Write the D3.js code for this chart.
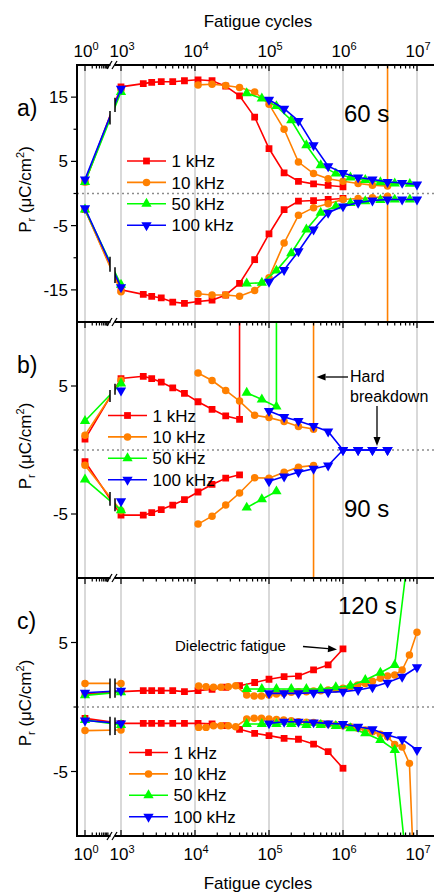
<!DOCTYPE html>
<html>
<head>
<meta charset="UTF-8">
<title>Fatigue cycles</title>
<style>
  body { margin: 0; background: #fff; }
  svg { display: block; font-family: "Liberation Sans", Arial, sans-serif; }
  .grid { stroke: #cccccc; stroke-width: 1.5; }
  .zero { stroke: #8c8c8c; stroke-width: 1.5; stroke-dasharray: 2 3; }
  .axis { stroke: #000; stroke-width: 2; fill: none; }
  .tick { stroke: #000; stroke-width: 1.2; }
  .series { fill: none; stroke-width: 1.6; }
</style>
</head>
<body>
<svg id="chart"></svg>
<script src="https://d3js.org/d3.v7.min.js"></script>
<script>
const freqs = ["1 kHz", "10 kHz", "50 kHz", "100 kHz"];
const colors = ["#ff0000", "#ff8000", "#00ff00", "#0000ff"];

// panel a) 60 s
const a_cycRed = [1, 1e3, 2e3, 2.6e3, 3.5e3, 5e3, 7.2e3, 1.1e4, 1.7e4, 2.6e4, 4e4, 6.4e4, 1e5, 1.6e5, 2.5e5, 4e5, 6.3e5, 1e6];
const a_redUp = [1.8, 16.6, 17.1, 17.3, 17.4, 17.4, 17.55, 17.7, 17.55, 16.7, 15.2, 11.9, 7.0, 3.2, 1.9, 1.5, 1.25, 1.05];
const a_redDn = [-2.5, -15.0, -15.7, -16.0, -16.25, -16.9, -17.1, -16.8, -16.6, -15.8, -14.0, -10.3, -6.3, -2.5, -1.2, -1.1, -0.93, -0.78];
const a_cycOrange = [1, 1e3, null, 1.1e4, 1.7e4, 2.6e4, 4e4, 6.4e4, 1e5, 1.6e5, 2.5e5, 4e5, 6.3e5, 1e6, 1.6e6, 2.5e6, 4e6, 4e6];
const a_orangeUp = [1.8, 16.2, null, 16.9, 17.0, 16.8, 16.5, 15.8, 13.9, 10.0, 4.9, 3.1, 2.3, 1.9, 1.55, 1.3, 1.15, 99];
const a_orangeDn = [-2.5, -15.3, null, -15.6, -15.8, -15.8, -16.0, -15.1, -13.1, -7.7, -3.4, -2.2, -1.6, -0.93, -0.78, -0.67, -0.42, -99];
const a_cycGreen = [1, 1e3, null, 5e4, 8e4, 1.26e5, 2e5, 3.2e5, 5e5, 8e5, 1.26e6, 2e6, 3.2e6, 5e6, 8e6];
const a_greenUp = [1.8, 15.8, null, 15.6, 14.8, 13.6, 11.4, 7.5, 4.4, 3.1, 2.5, 2.1, 1.75, 1.55, 1.5];
const a_greenDn = [-2.5, -14.2, null, -14.0, -13.9, -12.0, -9.3, -5.6, -3.0, -2.0, -1.5, -1.2, -1.0, -0.95, -0.93];
const a_cycBlue = [1, 1e3, null, 1e5, 1.6e5, 2.5e5, 4e5, 6.3e5, 1e6, 1.6e6, 2.5e6, 4e6, 6.3e6, 1e7];
const a_blueUp = [2.2, 16.3, null, 14.6, 13.2, 11.3, 7.5, 4.25, 3.2, 2.5, 2.2, 1.8, 1.65, 1.4];
const a_blueDn = [-2.3, -14.6, null, -13.75, -11.9, -9.0, -5.6, -3.0, -2.0, -1.45, -1.1, -0.93, -0.93, -0.93];

// panel b) 90 s
const b_cycRed = [1, 1e3, 2e3, 2.6e3, 3.5e3, 5e3, 7.2e3, 1.1e4, 1.7e4, 2.6e4, 4e4, 4e4];
const b_redUp = [0.85, 5.58, 5.76, 5.58, 5.3, 4.86, 4.42, 3.77, 3.18, 2.66, 2.4, 99];
const b_redDn = [-0.9, -5.09, -5.09, -4.9, -4.65, -4.3, -3.88, -3.28, -2.69, -2.2, -1.94, null];
const b_cycOrange = [1, 1e3, null, 1.1e4, 1.7e4, 2.6e4, 4e4, 6.4e4, 1e5, 1.6e5, 2.5e5, 4e5, 4e5];
const b_orangeUp = [1.16, 5.45, null, 6.02, 5.43, 4.65, 3.82, 2.71, 2.53, 2.22, 1.84, 1.63, 99];
const b_orangeDn = [-1.2, -4.75, null, -5.79, -5.17, -4.3, -3.36, -2.17, -2.2, -1.73, -1.34, -1.21, -99];
const b_cycGreen = [1, 1e3, null, 5e4, 8e4, 1.26e5, 1.26e5];
const b_greenUp = [2.27, 5.19, null, 4.47, 3.95, 3.39, 99];
const b_greenDn = [-2.3, -4.7, null, -4.5, -3.85, -3.23, null];
const b_cycBlue = [1e3, null, 1e5, 1.6e5, 2.5e5, 4e5, 6.3e5, 1e6, 1.6e6, 2.5e6, 4e6];
const b_blueUp = [4.65, null, 3.05, 2.58, 2.27, 1.88, 1.45, 0, 0, 0, 0];
const b_blueDn = [-4.0, null, -2.45, -2.07, -1.73, -1.47, -1.21, 0, 0, 0, 0];

// panel c) 120 s
const c_cycRed = [1, 1e3, 2e3, 2.6e3, 3.5e3, 5e3, 7.2e3, 1.1e4, 1.7e4, 2.6e4, 4e4, 6.4e4, 1e5, 1.6e5, 2.5e5, 4e5, 6.3e5, 1e6];
const c_redUp = [1.0, 1.19, 1.27, 1.27, 1.27, 1.27, 1.19, 1.27, 1.37, 1.53, 1.65, 1.9, 2.15, 2.35, 2.4, 2.87, 3.26, 4.5];
const c_redDn = [-0.88, -1.27, -1.27, -1.27, -1.27, -1.27, -1.27, -1.27, -1.3, -1.45, -1.73, -2.04, -2.22, -2.43, -2.5, -2.87, -3.46, -4.75];
const c_cycOrange = [1, 1e3, null, 1.12e4, 1.41e4, 1.78e4, 2.24e4, 2.82e4, 3.55e4, 5e4, 6.3e4, 7.9e4, 1e5, 1.26e5, 1.58e5, 2e5, 2.5e5, 3.2e5, 4e5, 5e5, 6.3e5, 7.9e5, 1e6, 1.26e6, 1.58e6, 2e6, 2.5e6, 3.2e6, 4e6, 5e6, 6.3e6, 7.9e6, 1e7];
const c_orangeUp = [1.83, 1.83, null, 1.63, 1.57, 1.53, 1.53, 1.57, 1.65, 0.93, 0.85, 0.85, 0.93, 1.0, 1.06, 1.14, 1.19, 1.19, 1.24, 1.26, 1.32, 1.4, 1.45, 1.57, 1.7, 1.83, 2.0, 2.22, 2.4, 2.48, 2.87, 4.03, 5.79];
const c_orangeDn = [-1.83, -1.78, null, -1.58, -1.58, -1.45, -1.45, -1.45, -1.53, -0.93, -0.88, -0.88, -0.93, -0.96, -1.0, -1.06, -1.14, -1.19, -1.21, -1.27, -1.32, -1.4, -1.45, -1.53, -1.65, -1.78, -1.91, -2.12, -2.3, -2.9, -3.1, -4.37, -19];
const c_cycGreen = [1, 1e3, null, 5e4, 8e4, 1.26e5, 2e5, 3.2e5, 5e5, 8e5, 1.26e6, 2e6, 3.2e6, 5e6, 8e6];
const c_greenUp = [0.9, 1.15, null, 1.4, 1.4, 1.4, 1.4, 1.4, 1.4, 1.53, 1.65, 2.1, 2.66, 3.26, 13];
const c_greenDn = [-1.0, -1.4, null, -1.32, -1.32, -1.32, -1.32, -1.4, -1.4, -1.47, -1.65, -2.04, -2.56, -3.33, -14.7];
const c_cycBlue = [1, 1e3, null, 1e5, 1.6e5, 2.5e5, 4e5, 6.3e5, 1e6, 1.6e6, 2.5e6, 4e6, 6.3e6, 1e7];
const c_blueUp = [1.1, 1.26, null, 1.06, 1.06, 1.06, 1.11, 1.14, 1.19, 1.32, 1.53, 1.89, 2.35, 3.08];
const c_blueDn = [-1.05, -1.27, null, -1.27, -1.14, -1.14, -1.19, -1.27, -1.32, -1.53, -1.73, -2.17, -2.5, -3.33];

const decades = [1, 1e3, 1e4, 1e5, 1e6, 1e7];
const decadeExp = ["0", "3", "4", "5", "6", "7"];

const W = 434, H = 892;
const plotL = 77, plotR = 434;
const breakL = 110, breakR = 115;

const svg = d3.select("#chart").attr("width", W).attr("height", H);

// broken log axis: a short first piece around 10^0, then 10^3..10^7
const xFirst = d3.scaleLog().domain([1, 10]).range([85, 109]);
const xMain = d3.scaleLog().domain([1e3, 1e7]).range([121, 417]);
const xPos = n => n < 100 ? xFirst(n) : xMain(n);

const panels = [
  { id: "a", top: 65, bottom: 322, domain: [-20, 20], major: [-15, -5, 5, 15], minor: [-10, 0, 10],
    tag: "a)", time: "60 s", timeX: 344, timeY: 122, legX: 127, legY: 161,
    series: [[a_cycRed, a_redUp, a_redDn], [a_cycOrange, a_orangeUp, a_orangeDn],
             [a_cycGreen, a_greenUp, a_greenDn], [a_cycBlue, a_blueUp, a_blueDn]] },
  { id: "b", top: 322, bottom: 578, domain: [-10, 10], major: [-5, 5], minor: [0],
    tag: "b)", time: "90 s", timeX: 344, timeY: 517, legX: 108, legY: 415.5,
    series: [[b_cycRed, b_redUp, b_redDn], [b_cycOrange, b_orangeUp, b_orangeDn],
             [b_cycGreen, b_greenUp, b_greenDn], [b_cycBlue, b_blueUp, b_blueDn]] },
  { id: "c", top: 578, bottom: 836, domain: [-10, 10], major: [-5, 5], minor: [0],
    tag: "c)", time: "120 s", timeX: 338, timeY: 614, legX: 129, legY: 752.5,
    series: [[c_cycRed, c_redUp, c_redDn], [c_cycOrange, c_orangeUp, c_orangeDn],
             [c_cycGreen, c_greenUp, c_greenDn], [c_cycBlue, c_blueUp, c_blueDn]] }
];

function symbolPath(i) {
  const types = [d3.symbolSquare, d3.symbolCircle, d3.symbolTriangle, d3.symbolTriangle];
  const sizes = [46, 44, 46, 46];
  return d3.symbol().type(types[i]).size(sizes[i])();
}
function symbolRot(i) { return i === 3 ? " rotate(180)" : ""; }

const defs = svg.append("defs");

// vertical grid lines across all panels
svg.append("g").selectAll("line").data(decades).join("line")
  .attr("class", "grid")
  .attr("x1", d => xPos(d)).attr("x2", d => xPos(d))
  .attr("y1", panels[0].top).attr("y2", panels[2].bottom);

panels.forEach(p => {
  const y = d3.scaleLinear().domain(p.domain).range([p.bottom, p.top]);
  p.y = y;

  const clip = defs.append("clipPath").attr("id", "clip-" + p.id);
  clip.append("rect").attr("x", plotL).attr("y", p.top).attr("width", breakL - plotL).attr("height", p.bottom - p.top);
  clip.append("rect").attr("x", breakR).attr("y", p.top).attr("width", plotR - breakR).attr("height", p.bottom - p.top);

  // zero line
  svg.append("line").attr("class", "zero")
    .attr("x1", plotL).attr("x2", plotR).attr("y1", y(0)).attr("y2", y(0));

  const g = svg.append("g").attr("clip-path", `url(#clip-${p.id})`);
  const line = d3.line()
    .defined(d => d.n != null && d.v != null)
    .x(d => xPos(d.n)).y(d => y(d.v));

  p.series.forEach(([cyc, up, dn], i) => {
    [up, dn].forEach(vals => {
      const pts = cyc.map((n, k) => ({ n: n, v: vals[k] }));
      g.append("path").attr("class", "series")
        .attr("stroke", colors[i]).attr("d", line(pts));
      g.selectAll(null).data(pts.filter(d => d.n != null && d.v != null)).join("path")
        .attr("d", symbolPath(i))
        .attr("fill", colors[i])
        .attr("transform", d => `translate(${xPos(d.n)},${y(d.v)})${symbolRot(i)}`);
    });
  });

  // break marks on the lines joining 10^0 and 10^3
  [1, 2].forEach(b => {
    [breakL, breakR].forEach(bx => {
      const ys = [];
      p.series.forEach(s => {
        const cyc = s[0], vals = s[b];
        if (cyc[0] === 1 && cyc[1] === 1e3 && vals[0] != null && vals[1] != null) {
          const t = (bx - xPos(1)) / (xPos(1e3) - xPos(1));
          ys.push(y(vals[0]) + (y(vals[1]) - y(vals[0])) * t);
        }
      });
      if (ys.length) {
        svg.append("line").attr("stroke", "#000").attr("stroke-width", 1.5)
          .attr("x1", bx).attr("x2", bx)
          .attr("y1", d3.min(ys) - 5).attr("y2", d3.max(ys) + 5);
      }
    });
  });

  // y ticks
  svg.append("g").selectAll("line").data(p.major).join("line").attr("class", "tick")
    .attr("x1", plotL - 6).attr("x2", plotL).attr("y1", d => y(d)).attr("y2", d => y(d));
  svg.append("g").selectAll("line").data(p.minor).join("line").attr("class", "tick")
    .attr("x1", plotL - 3.5).attr("x2", plotL).attr("y1", d => y(d)).attr("y2", d => y(d));
  svg.append("g").selectAll("text").data(p.major).join("text")
    .attr("x", 68).attr("y", d => y(d)).attr("dy", "0.36em")
    .attr("text-anchor", "end").attr("font-size", 17)
    .text(d => d < 0 ? "-" + Math.abs(d) : d);

  // y title
  const ty = svg.append("text").attr("font-size", 17).attr("text-anchor", "middle")
    .attr("transform", `translate(31,${(p.top + p.bottom) / 2 - 4}) rotate(-90)`);
  ty.append("tspan").text("P");
  ty.append("tspan").attr("font-size", 11).attr("dy", 4).text("r");
  ty.append("tspan").attr("dy", -4).text(" (\u03BCC/cm");
  ty.append("tspan").attr("font-size", 11).attr("dy", -7).text("2");
  ty.append("tspan").attr("dy", 7).text(")");

  // panel tag and time label
  svg.append("text").attr("x", 17).attr("y", p.top + 51).attr("font-size", 23).text(p.tag);
  svg.append("text").attr("x", p.timeX).attr("y", p.timeY).attr("font-size", 24).text(p.time);

  // legend
  const leg = svg.append("g");
  freqs.forEach((f, i) => {
    const ly = p.legY + i * 21.4;
    leg.append("line").attr("x1", p.legX).attr("x2", p.legX + 39).attr("y1", ly).attr("y2", ly)
      .attr("stroke", colors[i]).attr("stroke-width", 1.6);
    leg.append("path").attr("d", symbolPath(i)).attr("fill", colors[i])
      .attr("transform", `translate(${p.legX + 19.5},${ly})${symbolRot(i)}`);
    leg.append("text").attr("x", p.legX + 44.5).attr("y", ly).attr("dy", "0.36em")
      .attr("font-size", 17).text(f);
  });
});

// x-axis ticks for each horizontal axis line
const minorFirst = d3.range(2, 10);
const minorMain = [];
[1e3, 1e4, 1e5, 1e6].forEach(dec => d3.range(2, 10).forEach(m => minorMain.push(dec * m)));

function xTicks(yy, dir) {
  const g = svg.append("g");
  g.selectAll(".maj").data(decades).join("line").attr("class", "tick")
    .attr("x1", d => xPos(d)).attr("x2", d => xPos(d)).attr("y1", yy).attr("y2", yy + dir * 6);
  g.selectAll(".mn").data(minorFirst.concat(minorMain)).join("line").attr("class", "tick")
    .attr("x1", d => xPos(d)).attr("x2", d => xPos(d)).attr("y1", yy).attr("y2", yy + dir * 3.5);
}
xTicks(panels[0].top, 1);
xTicks(panels[1].top, 1);
xTicks(panels[2].top, 1);
xTicks(panels[2].bottom, -1);

// frame lines
svg.append("line").attr("class", "axis").attr("x1", plotL).attr("x2", plotL)
  .attr("y1", panels[0].top - 1).attr("y2", panels[2].bottom + 1);
[panels[0].top, panels[1].top, panels[2].top, panels[2].bottom].forEach(yy => {
  svg.append("line").attr("class", "axis").attr("x1", plotL).attr("x2", plotR).attr("y1", yy).attr("y2", yy);
  svg.append("rect").attr("x", breakL + 0.5).attr("y", yy - 2).attr("width", breakR - breakL - 1).attr("height", 4).attr("fill", "#fff");
  [breakL - 0.5, breakR - 0.5].forEach(bx => {
    svg.append("line").attr("stroke", "#000").attr("stroke-width", 1.3)
      .attr("x1", bx - 2.5).attr("x2", bx + 2.5).attr("y1", yy + 4).attr("y2", yy - 4);
  });
});

// decade tick labels
function decadeLabels(yy) {
  const g = svg.append("g");
  decades.forEach((d, i) => {
    const t = g.append("text").attr("x", xPos(d) + 1).attr("y", yy)
      .attr("text-anchor", "middle").attr("font-size", 17);
    t.append("tspan").text("10");
    t.append("tspan").attr("font-size", 11).attr("dy", -7).text(decadeExp[i]);
  });
}
decadeLabels(57);
decadeLabels(860);

svg.append("text").attr("x", 258).attr("y", 27).attr("text-anchor", "middle").attr("font-size", 17).text("Fatigue cycles");
svg.append("text").attr("x", 258).attr("y", 889).attr("text-anchor", "middle").attr("font-size", 17).text("Fatigue cycles");

// annotations
function arrow(x1, y1, x2, y2) {
  const ang = Math.atan2(y2 - y1, x2 - x1);
  const L = 9, Wd = 3.5;
  const bx = x2 - L * Math.cos(ang), by = y2 - L * Math.sin(ang);
  svg.append("line").attr("stroke", "#000").attr("stroke-width", 1.3)
    .attr("x1", x1).attr("y1", y1).attr("x2", bx).attr("y2", by);
  svg.append("path").attr("fill", "#000")
    .attr("d", `M${x2},${y2}L${bx - Wd * Math.sin(ang)},${by + Wd * Math.cos(ang)}L${bx + Wd * Math.sin(ang)},${by - Wd * Math.cos(ang)}Z`);
}
const yb = panels[1].y, yc = panels[2].y;
svg.append("text").attr("x", 350).attr("y", 382).attr("font-size", 16).text("Hard");
svg.append("text").attr("x", 350).attr("y", 401.5).attr("font-size", 16).text("breakdown");
arrow(348, 377, xMain(4e5) + 3, 377);
arrow(377, 406, 377, yb(0) - 4);
svg.append("text").attr("x", 175).attr("y", 650.5).attr("font-size", 15).text("Dielectric fatigue");
arrow(303, 646.5, xMain(1e6) - 6, yc(4.5) + 0.5);
</script>
</body>
</html>
